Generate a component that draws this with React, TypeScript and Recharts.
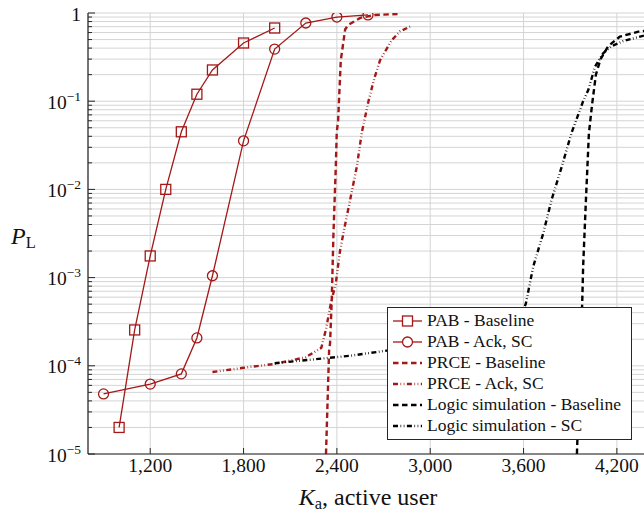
import React from 'react';
import { LineChart, Line, XAxis, YAxis, CartesianGrid, Legend } from 'recharts';

// ---------- data ----------
const xTicks = [1200, 1800, 2400, 3000, 3600, 4200];
const yTicks = [
  1e-5, 2e-5, 3e-5, 4e-5, 5e-5, 6e-5, 7e-5, 8e-5, 9e-5,
  1e-4, 2e-4, 3e-4, 4e-4, 5e-4, 6e-4, 7e-4, 8e-4, 9e-4,
  1e-3, 2e-3, 3e-3, 4e-3, 5e-3, 6e-3, 7e-3, 8e-3, 9e-3,
  1e-2, 2e-2, 3e-2, 4e-2, 5e-2, 6e-2, 7e-2, 8e-2, 9e-2,
  1e-1, 2e-1, 3e-1, 4e-1, 5e-1, 6e-1, 7e-1, 8e-1, 9e-1,
  1,
];

const pabBaseline = [
  { k: 1000, p: 2.0e-5 },
  { k: 1100, p: 2.55e-4 },
  { k: 1200, p: 1.76e-3 },
  { k: 1300, p: 1.0e-2 },
  { k: 1400, p: 4.5e-2 },
  { k: 1500, p: 0.12 },
  { k: 1600, p: 0.226 },
  { k: 1800, p: 0.457 },
  { k: 2000, p: 0.676 },
];

const pabAckSc = [
  { k: 900, p: 4.8e-5 },
  { k: 1200, p: 6.2e-5 },
  { k: 1400, p: 8.1e-5 },
  { k: 1500, p: 2.07e-4 },
  { k: 1600, p: 1.05e-3 },
  { k: 1800, p: 0.0355 },
  { k: 2000, p: 0.39 },
  { k: 2200, p: 0.77 },
  { k: 2400, p: 0.9 },
  { k: 2600, p: 0.95 },
];

const prceBaseline = [
  { k: 2330, p: 1.0e-5 },
  { k: 2350, p: 1.5e-4 },
  { k: 2356, p: 1.8e-4 },
  { k: 2367, p: 5.6e-4 },
  { k: 2378, p: 3.2e-3 },
  { k: 2393, p: 0.018 },
  { k: 2399, p: 0.044 },
  { k: 2408, p: 0.061 },
  { k: 2425, p: 0.29 },
  { k: 2453, p: 0.65 },
  { k: 2472, p: 0.73 },
  { k: 2550, p: 0.88 },
  { k: 2645, p: 0.95 },
  { k: 2790, p: 0.975 },
];

const prceAckSc = [
  { k: 1600, p: 8.5e-5 },
  { k: 1800, p: 9.5e-5 },
  { k: 2000, p: 1.05e-4 },
  { k: 2200, p: 1.25e-4 },
  { k: 2300, p: 1.6e-4 },
  { k: 2330, p: 2.6e-4 },
  { k: 2360, p: 5.0e-4 },
  { k: 2393, p: 8.6e-4 },
  { k: 2420, p: 2.0e-3 },
  { k: 2442, p: 3.2e-3 },
  { k: 2485, p: 7.6e-3 },
  { k: 2528, p: 0.018 },
  { k: 2560, p: 0.044 },
  { k: 2603, p: 0.1 },
  { k: 2640, p: 0.18 },
  { k: 2677, p: 0.29 },
  { k: 2752, p: 0.49 },
  { k: 2806, p: 0.62 },
  { k: 2870, p: 0.7 },
];

const logicBaseline = [
  { k: 3943, p: 1.0e-5 },
  { k: 3959, p: 6.9e-5 },
  { k: 3977, p: 5.1e-4 },
  { k: 3983, p: 1.33e-3 },
  { k: 4001, p: 7.6e-3 },
  { k: 4020, p: 0.043 },
  { k: 4040, p: 0.09 },
  { k: 4065, p: 0.2 },
  { k: 4095, p: 0.3 },
  { k: 4144, p: 0.42 },
  { k: 4219, p: 0.54 },
  { k: 4348, p: 0.62 },
  { k: 4400, p: 0.63 },
];

const logicSc = [
  { k: 2000, p: 1.07e-4 },
  { k: 2228, p: 1.17e-4 },
  { k: 2485, p: 1.3e-4 },
  { k: 2677, p: 1.45e-4 },
  { k: 3000, p: 1.75e-4 },
  { k: 3300, p: 2.1e-4 },
  { k: 3500, p: 2.7e-4 },
  { k: 3600, p: 4.3e-4 },
  { k: 3615, p: 5.1e-4 },
  { k: 3662, p: 1.33e-3 },
  { k: 3727, p: 3.2e-3 },
  { k: 3780, p: 7.6e-3 },
  { k: 3845, p: 0.018 },
  { k: 3909, p: 0.044 },
  { k: 3983, p: 0.1 },
  { k: 4016, p: 0.134 },
  { k: 4059, p: 0.245 },
  { k: 4112, p: 0.35 },
  { k: 4166, p: 0.42 },
  { k: 4240, p: 0.48 },
  { k: 4400, p: 0.57 },
];

// ---------- styles ----------
const RED = '#a31818';
const BLACK = '#000000';
const AXIS = '#262626';
const GRID = '#d4d4d4';
const FONT = "'Liberation Serif', 'Times New Roman', 'DejaVu Serif', serif";
const DASH = '5.5 3.5';
const DASHDOTDOT = '5 2.5 0.7 2.5 0.7 2.5';

const legendItems = [
  { name: 'PAB - Baseline', color: RED, dash: undefined as string | undefined, marker: 'square', width: 1.3 },
  { name: 'PAB - Ack, SC', color: RED, dash: undefined as string | undefined, marker: 'circle', width: 1.3 },
  { name: 'PRCE - Baseline', color: RED, dash: DASH, marker: '', width: 2.4 },
  { name: 'PRCE - Ack, SC', color: RED, dash: DASHDOTDOT, marker: '', width: 2.4 },
  { name: 'Logic simulation - Baseline', color: BLACK, dash: DASH, marker: '', width: 2.4 },
  { name: 'Logic simulation - SC', color: BLACK, dash: DASHDOTDOT, marker: '', width: 2.4 },
];

// ---------- components ----------
const YTick = (props: any) => {
  const { x, y, payload } = props;
  const v = payload.value as number;
  const e = Math.floor(Math.log10(v) + 1e-9);
  const m = v / Math.pow(10, e);
  const major = Math.abs(m - 1) < 1e-6;
  return (
    <g>
      <line x1={x} x2={x + (major ? 7 : 4)} y1={y} y2={y} stroke={AXIS} strokeWidth={1} />
      {major && (
        <text x={x - 7} y={y + 7.5} textAnchor="end" fontFamily={FONT} fontSize={19.5} fill="#111">
          {e === 0 ? (
            '1'
          ) : (
            <>
              10
              <tspan fontSize={13.5} dy={-8}>
                {'\u2212' + -e}
              </tspan>
            </>
          )}
        </text>
      )}
    </g>
  );
};

const XTickBottom = (props: any) => {
  const { x, y, payload } = props;
  return (
    <g>
      <line x1={x} x2={x} y1={y} y2={y - 6} stroke={AXIS} strokeWidth={1} />
      <text x={x} y={y + 18} textAnchor="middle" fontFamily={FONT} fontSize={19.5} fill="#111">
        {Number(payload.value).toLocaleString('en-US')}
      </text>
    </g>
  );
};

const XTickTop = (props: any) => {
  const { x, y } = props;
  return <line x1={x} x2={x} y1={y} y2={y + 6} stroke={AXIS} strokeWidth={1} />;
};

const SquareDot = (p: any) => {
  if (p.cx == null || p.cy == null) return <g key={`sq${p.index}`} />;
  return (
    <rect
      key={`sq${p.index}`}
      x={p.cx - 5}
      y={p.cy - 5}
      width={10}
      height={10}
      fill="none"
      stroke={RED}
      strokeWidth={1.3}
    />
  );
};

const LegendBox = () => (
  <div
    style={{
      border: `1px solid ${AXIS}`,
      background: '#fff',
      width: 245,
      boxSizing: 'border-box',
      padding: '2px 0 3px 0',
      fontFamily: FONT,
      fontSize: 17.5,
      color: '#111',
    }}
  >
    {legendItems.map((it) => (
      <div key={it.name} style={{ display: 'flex', alignItems: 'center', height: 21 }}>
        <svg width={29} height={14} style={{ marginLeft: 5, flex: 'none' }}>
          <line
            x1={0}
            x2={29}
            y1={7}
            y2={7}
            stroke={it.color}
            strokeWidth={it.width}
            strokeDasharray={it.dash}
          />
          {it.marker === 'square' && (
            <rect x={9.5} y={2} width={10} height={10} fill="#fff" stroke={it.color} strokeWidth={1.3} />
          )}
          {it.marker === 'circle' && <circle cx={14.5} cy={7} r={5} fill="#fff" stroke={it.color} strokeWidth={1.3} />}
        </svg>
        <span style={{ marginLeft: 5, whiteSpace: 'pre', lineHeight: '21px' }}>{it.name}</span>
      </div>
    ))}
  </div>
);

const XLabel = (props: any) => {
  const vb = props.viewBox || {};
  const cx = vb.x + vb.width / 2;
  return (
    <text x={cx} y={505} textAnchor="middle" fontFamily={FONT} fontSize={24} fill="#111">
      <tspan fontStyle="italic">K</tspan>
      <tspan fontSize={16.5} dy={4}>
        a
      </tspan>
      <tspan dy={-4}>, active user</tspan>
    </text>
  );
};

const YLabel = (props: any) => {
  const vb = props.viewBox || {};
  const cy = vb.y + vb.height / 2;
  return (
    <text x={11} y={cy + 10} fontFamily={FONT} fontSize={24} fill="#111">
      <tspan fontStyle="italic">P</tspan>
      <tspan fontSize={16.5} dy={4}>
        L
      </tspan>
    </text>
  );
};

export default function App() {
  return (
    <div
      style={{
        position: 'absolute',
        left: 0,
        top: 0,
        width: 644,
        height: 513,
        overflow: 'hidden',
        background: '#fff',
      }}
    >
      <LineChart width={660} height={513} margin={{ top: 13, right: 12, bottom: 0, left: 0 }}>
        <CartesianGrid stroke={GRID} strokeWidth={1} />
        <XAxis
          xAxisId={0}
          dataKey="k"
          type="number"
          domain={[800, 4400]}
          allowDataOverflow
          ticks={xTicks}
          interval={0}
          height={59}
          tickSize={0}
          tickMargin={0}
          tick={<XTickBottom />}
          tickLine={false}
          axisLine={{ stroke: AXIS, strokeWidth: 1.2 }}
          label={<XLabel />}
        />
        <XAxis
          xAxisId="top"
          orientation="top"
          dataKey="k"
          type="number"
          domain={[800, 4400]}
          allowDataOverflow
          ticks={xTicks}
          interval={0}
          height={0}
          tickSize={0}
          tickMargin={0}
          tick={<XTickTop />}
          tickLine={false}
          axisLine={{ stroke: AXIS, strokeWidth: 1.2 }}
        />
        <YAxis
          dataKey="p"
          type="number"
          scale="log"
          domain={[1e-5, 1]}
          allowDataOverflow
          ticks={yTicks}
          interval={0}
          width={88}
          tickSize={0}
          tickMargin={0}
          tick={<YTick />}
          tickLine={false}
          axisLine={{ stroke: AXIS, strokeWidth: 1.2 }}
          label={<YLabel />}
        />
        <Line
          data={prceAckSc}
          dataKey="p"
          type="linear"
          stroke={RED}
          strokeWidth={2.4}
          strokeDasharray={DASHDOTDOT}
          dot={false}
          activeDot={false}
          isAnimationActive={false}
          name="PRCE - Ack, SC"
        />
        <Line
          data={prceBaseline}
          dataKey="p"
          type="linear"
          stroke={RED}
          strokeWidth={2.4}
          strokeDasharray={DASH}
          dot={false}
          activeDot={false}
          isAnimationActive={false}
          name="PRCE - Baseline"
        />
        <Line
          data={logicSc}
          dataKey="p"
          type="linear"
          stroke={BLACK}
          strokeWidth={2.4}
          strokeDasharray={DASHDOTDOT}
          dot={false}
          activeDot={false}
          isAnimationActive={false}
          name="Logic simulation - SC"
        />
        <Line
          data={logicBaseline}
          dataKey="p"
          type="linear"
          stroke={BLACK}
          strokeWidth={2.4}
          strokeDasharray={DASH}
          dot={false}
          activeDot={false}
          isAnimationActive={false}
          name="Logic simulation - Baseline"
        />
        <Line
          data={pabBaseline}
          dataKey="p"
          type="linear"
          stroke={RED}
          strokeWidth={1.3}
          dot={SquareDot}
          activeDot={false}
          isAnimationActive={false}
          name="PAB - Baseline"
        />
        <Line
          data={pabAckSc}
          dataKey="p"
          type="linear"
          stroke={RED}
          strokeWidth={1.3}
          dot={{ r: 5, fill: 'none', stroke: RED, strokeWidth: 1.3 }}
          activeDot={false}
          isAnimationActive={false}
          name="PAB - Ack, SC"
        />
        <Legend
          layout="vertical"
          align="center"
          verticalAlign="middle"
          content={<LegendBox />}
          wrapperStyle={{ left: 387, top: 307, width: 'auto', height: 'auto' }}
        />
      </LineChart>
    </div>
  );
}
